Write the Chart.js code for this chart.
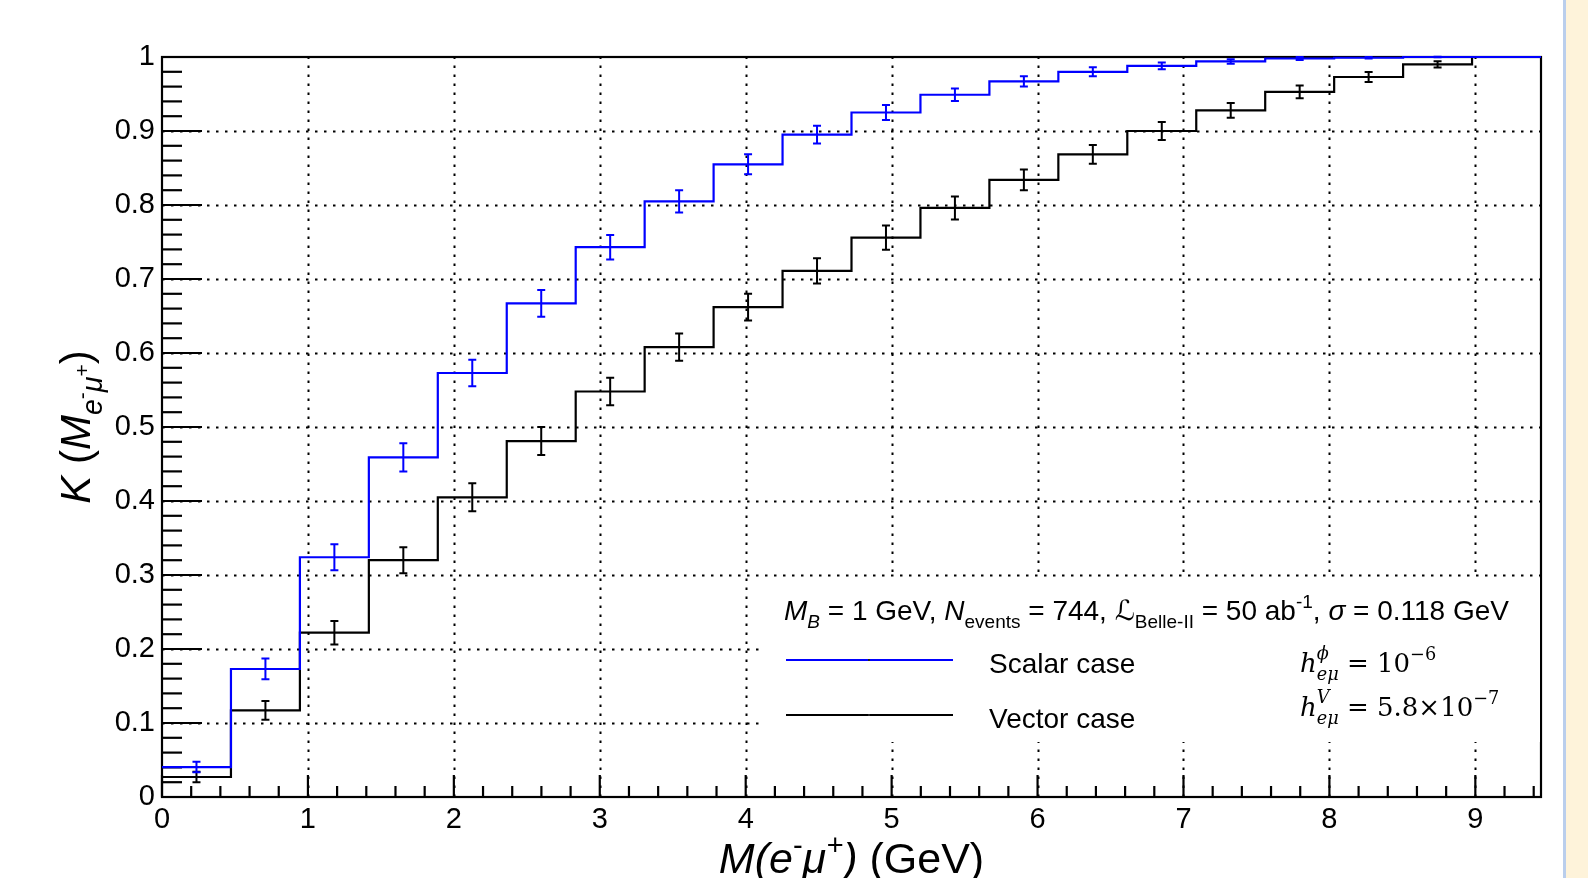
<!DOCTYPE html>
<html><head><meta charset="utf-8">
<script src="https://cdn.jsdelivr.net/npm/chart.js@4.4.1/dist/chart.umd.min.js"></script>
<style>
html,body{margin:0;padding:0;background:#fff;overflow:hidden}
#wrap{position:relative;width:1588px;height:878px}
#c{position:absolute;left:0;top:0}
#strip{position:absolute;left:1563px;top:0;width:25px;height:878px;background:#FEF3DA;border-left:3px solid #BACEEC;box-sizing:border-box}
</style></head><body>
<div id="wrap"><canvas id="c" width="1588" height="878"></canvas><div id="strip"></div></div>
<script>
// ---- data ----
const binEdges = [0, 0.4725, 0.945, 1.4175, 1.89, 2.3625, 2.835, 3.3075, 3.78, 4.2525, 4.725,
                  5.1975, 5.67, 6.1425, 6.615, 7.0875, 7.56, 8.0325, 8.505, 8.9775, 9.45];
const scalarK   = [0.0405, 0.173, 0.324, 0.459, 0.573, 0.667, 0.743, 0.805, 0.855, 0.895,
                   0.925, 0.949, 0.967, 0.980, 0.988, 0.994, 0.998, 0.999, 1.0, 1.0];
const scalarErr = [0.007, 0.014, 0.0175, 0.019, 0.018, 0.018, 0.0165, 0.015, 0.0135, 0.012,
                   0.010, 0.0086, 0.007, 0.006, 0.0045, 0.003, 0.002, 0.001, 0.0005, 0];
const vectorK   = [0.027, 0.117, 0.222, 0.320, 0.405, 0.481, 0.548, 0.608, 0.662, 0.711,
                   0.756, 0.796, 0.834, 0.8685, 0.900, 0.928, 0.953, 0.973, 0.990, 1.0];
const vectorErr = [0.007, 0.0126, 0.016, 0.0176, 0.019, 0.019, 0.0185, 0.0185, 0.018, 0.017,
                   0.0164, 0.0155, 0.014, 0.0126, 0.012, 0.010, 0.0086, 0.0068, 0.0043, 0];
const seriesNames = ['Scalar case', 'Vector case'];
const xRange = [0, 9.45];
const yRange = [0, 1];
const xMinorStep = 0.2, xMajorStep = 1;
const yMinorStep = 0.02, yMajorStep = 0.1;

// ---- helpers ----
function stepPoints(vals) {
  const pts = vals.map((v, i) => ({x: binEdges[i], y: v}));
  pts.push({x: binEdges[binEdges.length - 1], y: vals[vals.length - 1]});
  return pts;
}
function isMultiple(v, step) { const r = v / step; return Math.abs(r - Math.round(r)) < 1e-6; }

const SANS = '"Liberation Sans", Arial, Helvetica, sans-serif';
const SERIF = '"DejaVu Serif", "Liberation Serif", serif';

// rich text: segments {t, it, s:'sub'|'sup'|'subsup', f, dx, dy, stay}
function segFont(g, size) {
  let sz = size;
  if (g.s === 'sub' || g.s === 'sup') sz = size * 0.68;
  if (g.s === 'subsup') sz = size * 0.5;
  return (g.it ? 'italic ' : '') + (g.bold ? 'bold ' : '') + sz.toFixed(1) + 'px ' + (g.f || SANS);
}
function richWidth(ctx, segs, size) {
  let w = 0;
  for (const g of segs) { ctx.font = segFont(g, size); if (!g.stay) w += ctx.measureText(g.t).width + (g.dx || 0) * size; }
  return w;
}
function drawRich(ctx, segs, x, y, size) {
  let cx = x;
  for (const g of segs) {
    ctx.font = segFont(g, size);
    let dy = 0;
    if (g.s === 'sub') dy = size * 0.28;
    if (g.s === 'sup') dy = -size * 0.42;
    if (g.s === 'subsup') dy = -size * 0.02;
    if (g.dy !== undefined) dy = g.dy * size;
    ctx.fillText(g.t, cx, y + dy);
    if (!g.stay) cx += ctx.measureText(g.t).width + (g.dx || 0) * size;
  }
  return cx;
}

const rootPlugin = {
  id: 'rootStyle',
  beforeDatasetsDraw(chart) {
    const {ctx, chartArea: a, scales: {x: xs, y: ys}} = chart;
    ctx.save();
    ctx.strokeStyle = '#000';
    ctx.lineWidth = 2;
    ctx.setLineDash([2.5, 6.5]);
    for (const t of xs.ticks) {
      if (!isMultiple(t.value, xMajorStep) || t.value <= xRange[0]) continue;
      const px = Math.round(xs.getPixelForValue(t.value)) + 0.5;
      ctx.beginPath(); ctx.moveTo(px, a.bottom); ctx.lineTo(px, a.top); ctx.stroke();
    }
    for (const t of ys.ticks) {
      if (!isMultiple(t.value, yMajorStep) || t.value <= yRange[0] || t.value >= yRange[1]) continue;
      const py = Math.round(ys.getPixelForValue(t.value)) + 0.5;
      ctx.beginPath(); ctx.moveTo(a.left, py); ctx.lineTo(a.right, py); ctx.stroke();
    }
    ctx.setLineDash([]);
    ctx.lineWidth = 2.2;
    for (const t of ys.ticks) {
      const len = isMultiple(t.value, yMajorStep) ? 40 : 20;
      const py = ys.getPixelForValue(t.value);
      ctx.beginPath(); ctx.moveTo(a.left, py); ctx.lineTo(a.left + len, py); ctx.stroke();
    }
    for (const t of xs.ticks) {
      const len = isMultiple(t.value, xMajorStep) ? 22 : 11;
      const px = xs.getPixelForValue(t.value);
      ctx.beginPath(); ctx.moveTo(px, a.bottom); ctx.lineTo(px, a.bottom - len); ctx.stroke();
    }
    ctx.lineWidth = 2.2;
    ctx.strokeRect(a.left, a.top, a.right - a.left, a.bottom - a.top);
    ctx.restore();
  },
  afterDatasetsDraw(chart) {
    const {ctx, chartArea: a, scales: {x: xs, y: ys}} = chart;
    ctx.save();
    // error bars
    const sets = [[vectorK, vectorErr, '#000000'], [scalarK, scalarErr, '#0000ff']];
    for (const [vals, errs, col] of sets) {
      ctx.strokeStyle = col; ctx.lineWidth = 2;
      vals.forEach((v, i) => {
        if (!errs[i]) return;
        const px = xs.getPixelForValue((binEdges[i] + binEdges[i + 1]) / 2);
        const p1 = ys.getPixelForValue(v - errs[i]);
        const p2 = ys.getPixelForValue(v + errs[i]);
        ctx.beginPath();
        ctx.moveTo(px, p1); ctx.lineTo(px, p2);
        ctx.moveTo(px - 4, p1); ctx.lineTo(px + 4, p1);
        ctx.moveTo(px - 4, p2); ctx.lineTo(px + 4, p2);
        ctx.stroke();
      });
    }
    // legend box
    ctx.fillStyle = '#fff';
    ctx.fillRect(762, 578, a.right - 1 - 762, 164);
    ctx.fillStyle = '#000';
    ctx.textBaseline = 'alphabetic';
    ctx.textAlign = 'left';
    const header = [
      {t: 'M', it: 1}, {t: 'B', it: 1, s: 'sub'}, {t: ' = 1 GeV, '},
      {t: 'N', it: 1}, {t: 'events', s: 'sub'}, {t: ' = 744, '},
      {t: '\u2112', f: '"DejaVu Sans", sans-serif', it: 1}, {t: 'Belle-II', s: 'sub'}, {t: ' = 50 ab'},
      {t: '-1', s: 'sup'}, {t: ', '}, {t: '\u03C3', it: 1}, {t: ' = 0.118 GeV'}
    ];
    drawRich(ctx, header, 784, 620, 28);
    const colors = ['#0000ff', '#000000'];
    const ly = [660, 715];
    for (let k = 0; k < 2; k++) {
      ctx.strokeStyle = colors[k];
      ctx.lineWidth = 2.2;
      ctx.beginPath(); ctx.moveTo(786, ly[k]); ctx.lineTo(953, ly[k]); ctx.stroke();
      ctx.fillStyle = '#222';
      ctx.fillRect(868, ly[k] - 1, 2, 2);
      ctx.font = '28px ' + SANS;
      ctx.fillStyle = '#000';
      ctx.fillText(seriesNames[k], 989, ly[k] + 13);
    }
    const f1 = [{t: 'h', it: 1, f: SERIF}, {t: '\u03D5', it: 1, f: SERIF, s: 'sup', dy: -0.5, stay: 1},
                {t: 'e\u03BC', it: 1, f: SERIF, s: 'sub', dy: 0.3}, {t: ' = 10', f: SERIF}, {t: '\u22126', f: SERIF, s: 'sup', dy: -0.45}];
    const f2 = [{t: 'h', it: 1, f: SERIF}, {t: 'V', it: 1, f: SERIF, s: 'sup', dy: -0.5, stay: 1},
                {t: 'e\u03BC', it: 1, f: SERIF, s: 'sub', dy: 0.3}, {t: ' = 5.8\u00D710', f: SERIF}, {t: '\u22127', f: SERIF, s: 'sup', dy: -0.45}];
    drawRich(ctx, f1, 1300, 672, 26);
    drawRich(ctx, f2, 1300, 716, 26);

    // axis titles
    const xt = [{t: 'M(e', it: 1}, {t: '-', s: 'sup'}, {t: '\u03BC', it: 1}, {t: '+', it: 1, s: 'sup'}, {t: ') ', it: 1}, {t: '(GeV)'}];
    const xsz = 43;
    const xw = richWidth(ctx, xt, xsz);
    drawRich(ctx, xt, (a.left + a.right) / 2 - xw / 2, 873, xsz);

    const yt = [{t: 'K', it: 1}, {t: ' ('}, {t: 'M', it: 1}, {t: 'e', it: 1, s: 'sub'}, {t: '-', s: 'subsup'},
                {t: '\u03BC', it: 1, s: 'sub'}, {t: '+', s: 'subsup'}, {t: ')'}];
    const ysz = 42;
    ctx.save();
    ctx.translate(90, (a.top + a.bottom) / 2);
    ctx.rotate(-Math.PI / 2);
    const yw = richWidth(ctx, yt, ysz);
    drawRich(ctx, yt, -yw / 2, 0, ysz);
    ctx.restore();
    ctx.restore();
  }
};

new Chart(document.getElementById('c'), {
  type: 'line',
  data: {
    datasets: [
      {label: seriesNames[0], data: stepPoints(scalarK), stepped: 'before', borderColor: '#0000ff',
       borderWidth: 2.2, pointRadius: 0, fill: false, clip: false},
      {label: seriesNames[1], data: stepPoints(vectorK), stepped: 'before', borderColor: '#000000',
       borderWidth: 2.2, pointRadius: 0, fill: false, clip: false}
    ]
  },
  options: {
    responsive: false, animation: false, devicePixelRatio: 1,
    layout: {padding: {left: 0, right: 47, top: 57, bottom: 0}},
    plugins: {legend: {display: false}, tooltip: {enabled: false}},
    scales: {
      x: {
        type: 'linear', position: 'bottom', min: xRange[0], max: xRange[1],
        grid: {display: false, drawTicks: false}, border: {display: false},
        ticks: {
          stepSize: xMinorStep, autoSkip: false, maxRotation: 0, includeBounds: false, padding: 6,
          color: '#000', font: {family: SANS, size: 29},
          callback: v => isMultiple(v, xMajorStep) ? String(Math.round(v)) : ''
        },
        afterFit: s => { s.height = 81; }
      },
      y: {
        type: 'linear', min: yRange[0], max: yRange[1],
        grid: {display: false, drawTicks: false}, border: {display: false},
        ticks: {
          stepSize: yMinorStep, autoSkip: false, padding: 7,
          color: '#000', font: {family: SANS, size: 29},
          callback: v => {
            if (!isMultiple(v, yMajorStep)) return '';
            const r = Math.round(v * 10) / 10;
            return (r === 0 || r === 1) ? String(r) : r.toFixed(1);
          }
        },
        afterFit: s => { s.width = 162; }
      }
    }
  },
  plugins: [rootPlugin]
});
</script>
</body></html>
